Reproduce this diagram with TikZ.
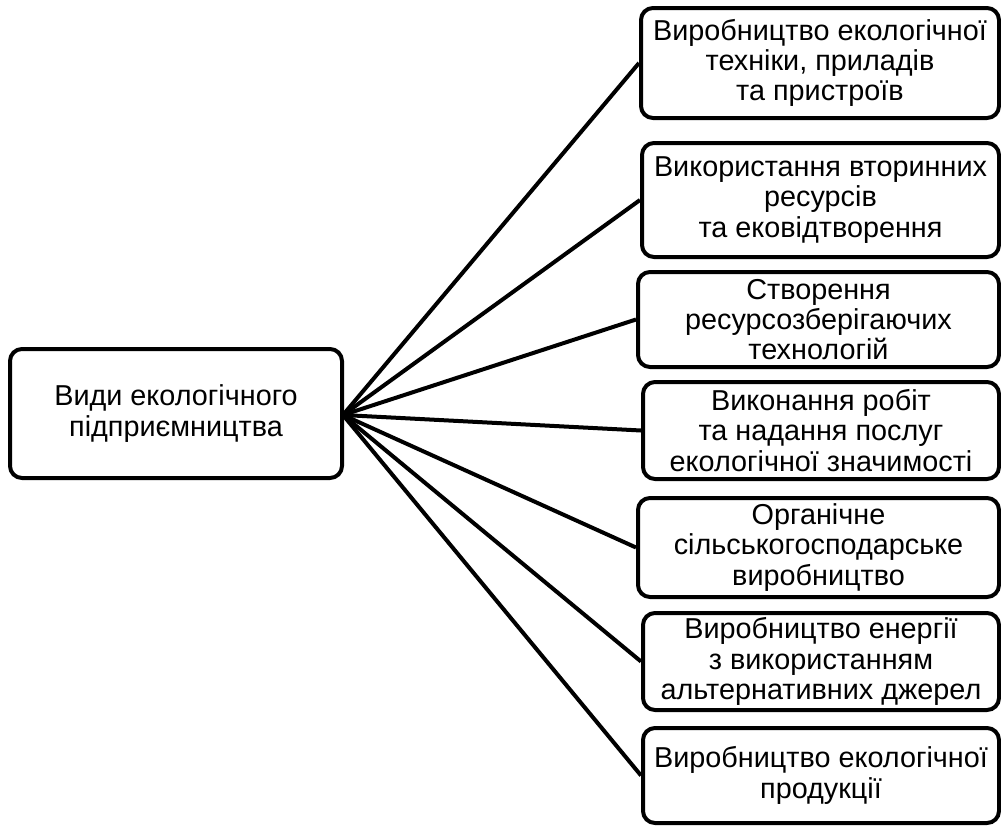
\documentclass[tikz,border=0pt]{standalone}
\usepackage{fontspec}
\setmainfont{Liberation Sans}
\begin{document}
\begin{tikzpicture}[x=0.75pt,y=-0.75pt,
  bx/.style={draw=black, line width=3pt, rounded corners=9pt, align=center, inner sep=0pt,
    font=\fontsize{21.6}{22.8}\selectfont, text=black},
  conn/.style={draw=black, line width=3pt}]
\useasboundingbox (0,0) rectangle (1001,828);
\node[bx, minimum width=332*0.75pt, minimum height=129*0.75pt] (L) at (176,413.5) {Види екологічного\\підприємництва};
\node[bx, minimum width=358*0.75pt, minimum height=110*0.75pt] (b1) at (820,63) {Виробництво екологічної\\техніки, приладів\\та пристроїв};
\node[bx, minimum width=357*0.75pt, minimum height=114*0.75pt] (b2) at (820.5,200) {Використання вторинних\\ресурсів\\та ековідтворення};
\node[bx, minimum width=361*0.75pt, minimum height=95*0.75pt] (b3) at (818.5,319.5) {Створення\\ресурсозберігаючих\\технологій};
\node[bx, minimum width=356*0.75pt, minimum height=97*0.75pt] (b4) at (821,430.5) {Виконання робіт\\та надання послуг\\екологічної значимості};
\node[bx, minimum width=361*0.75pt, minimum height=99*0.75pt] (b5) at (818.5,547.5) {Органічне\\сільськогосподарське\\виробництво};
\node[bx, minimum width=356*0.75pt, minimum height=97*0.75pt] (b6) at (821,661.5) {Виробництво енергії\\з використанням\\альтернативних джерел};
\node[bx, minimum width=356*0.75pt, minimum height=95*0.75pt] (b7) at (821,775.5) {Виробництво екологічної\\продукції};
\coordinate (hub) at (343,415);
\foreach \b in {b1,b2,b3,b4,b5,b6,b7} {
  \draw[conn] (hub) -- (\b.west);
}
\end{tikzpicture}
\end{document}
